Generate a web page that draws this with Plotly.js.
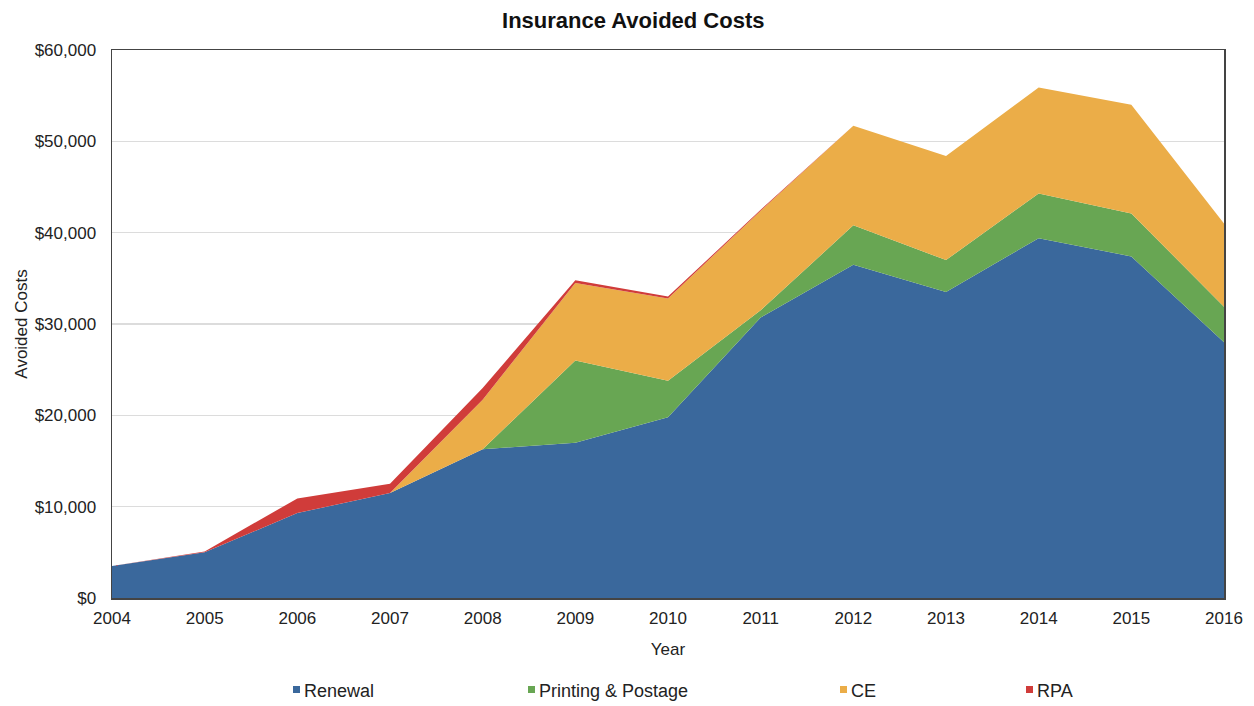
<!DOCTYPE html>
<html>
<head>
<meta charset="utf-8">
<script src="https://cdn.plot.ly/plotly-3.0.1.min.js"></script>
<style>
html,body{margin:0;padding:0;background:#fff;}
#chart{width:1254px;height:706px;}
</style>
</head>
<body>
<div id="chart"></div>
<script>
const years = [2004, 2005, 2006, 2007, 2008, 2009, 2010, 2011, 2012, 2013, 2014, 2015, 2016];
const renewal = [3500, 5000, 9300, 11500, 16300, 17000, 19800, 30700, 36500, 33500, 39400, 37400, 28000];
const printingPostage = [0, 0, 0, 0, 0, 9000, 4000, 800, 4300, 3500, 4900, 4700, 3900];
const ce = [0, 0, 0, 0, 5400, 8500, 9000, 10900, 10900, 11400, 11600, 11900, 9100];
const rpa = [0, 100, 1600, 1000, 1300, 300, 200, 100, 0, 0, 0, 0, 0];
const seriesNames = ["Renewal", "Printing & Postage", "CE", "RPA"];
const seriesColors = ["#3a689c", "#68a653", "#ebad48", "#d03c3a"];
const seriesValues = [renewal, printingPostage, ce, rpa];

const traces = seriesValues.map((vals, i) => ({
  x: years,
  y: vals,
  name: seriesNames[i],
  type: "scatter",
  mode: "lines",
  stackgroup: "one",
  line: {width: 0, color: seriesColors[i]},
  fillcolor: seriesColors[i],
  hoverinfo: "x+y+name"
}));

const font = "Liberation Sans, Arial, Helvetica, sans-serif";
const legendX = [293, 528, 840, 1026];
const shapes = [];
const annotations = [];
const px = v => (v - 112) / 1112;
const py = v => (598 - v) / 548;
seriesNames.forEach((n, i) => {
  shapes.push({type: "rect", xref: "paper", yref: "paper",
    x0: px(legendX[i]), x1: px(legendX[i] + 7),
    y0: py(693), y1: py(686),
    fillcolor: seriesColors[i], line: {width: 0}});
  annotations.push({xref: "paper", yref: "paper", x: px(legendX[i] + 9),
    y: py(691), xanchor: "left", yanchor: "middle", showarrow: false,
    text: n, font: {family: font, size: 18, color: "#222"}});
});

const layout = {
  width: 1254, height: 706,
  margin: {l: 112, r: 30, t: 50, b: 108},
  paper_bgcolor: "#fff", plot_bgcolor: "#fff",
  showlegend: false,
  title: {text: "<b>Insurance Avoided Costs</b>", x: 0.505, xanchor: "center", y: 0.971, yanchor: "middle",
    font: {family: font, size: 22, color: "#111"}},
  xaxis: {
    range: [2004, 2016], tickmode: "linear", tick0: 2004, dtick: 1,
    showgrid: false, zeroline: false,
    showline: true, linecolor: "#444", linewidth: 1.5, mirror: true,
    ticks: "", ticklabelstandoff: 4, tickfont: {family: font, size: 17, color: "#222"},
    title: {text: "Year", font: {family: font, size: 17, color: "#222"}, standoff: 16}
  },
  yaxis: {
    range: [0, 60000], tickmode: "linear", tick0: 0, dtick: 10000,
    tickprefix: "$", tickformat: ",d",
    showgrid: true, gridcolor: "#dcdcdc", gridwidth: 1.5, zeroline: false,
    showline: true, linecolor: "#444", linewidth: 1.5, mirror: true,
    ticks: "", ticklabelstandoff: 11, tickfont: {family: font, size: 17, color: "#222"},
    title: {text: "Avoided Costs", font: {family: font, size: 17, color: "#222"}, standoff: 2}
  },
  separators: ".,",
  shapes: shapes,
  annotations: annotations
};

Plotly.newPlot("chart", traces, layout, {displayModeBar: false, staticPlot: true});
</script>
</body>
</html>
